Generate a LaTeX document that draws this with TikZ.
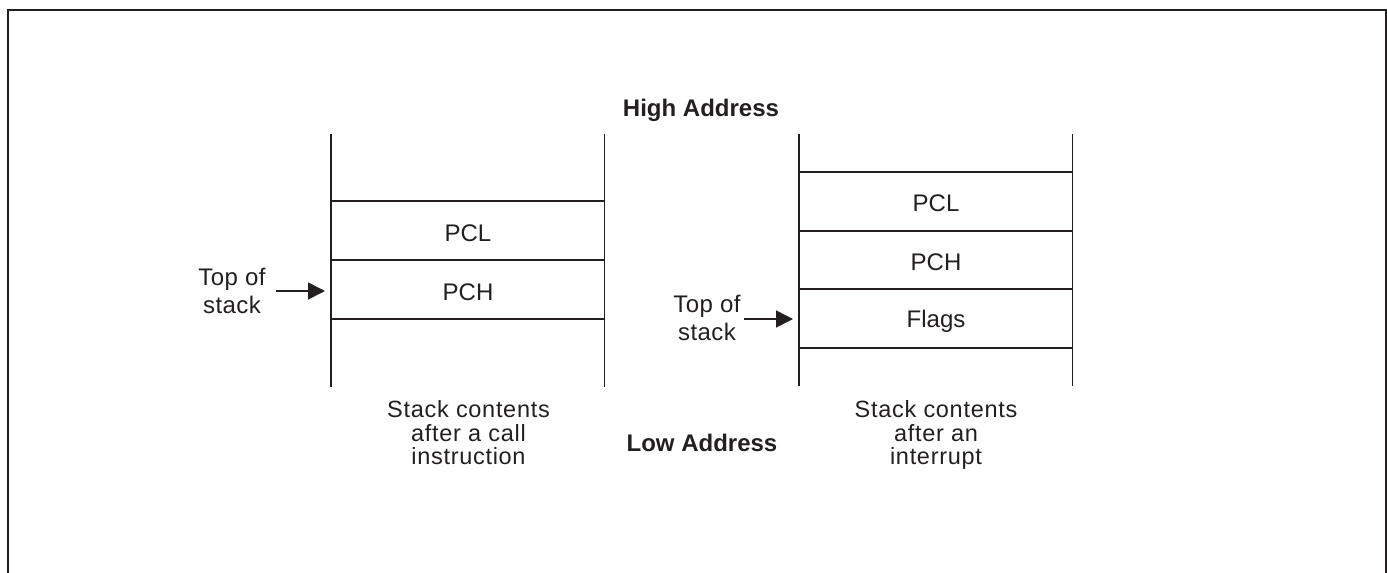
\documentclass[tikz,border=0pt]{standalone}
\usepackage{fontspec}
\setmainfont{Liberation Sans}
\usetikzlibrary{arrows.meta}
\definecolor{ink}{RGB}{35,31,32}
\begin{document}
\begin{tikzpicture}[x=1pt,y=-1pt,
  frame/.style={line width=2pt, draw=ink},
  stackline/.style={line width=1.3pt, draw=ink},
  celltext/.style={anchor=base, inner sep=0pt, text=ink, font=\fontsize{24}{28}\selectfont},
  caption/.style={align=center, anchor=north, inner sep=0pt, text=ink, font=\fontsize{23.5}{23.5}\selectfont\addfontfeatures{LetterSpace=3}},
  toslabel/.style={align=center, inner sep=0pt, text=ink, font=\fontsize{24}{28}\selectfont\addfontfeatures{LetterSpace=2}},
  addr/.style={anchor=base, inner sep=0pt, text=ink, font=\fontsize{24}{28}\selectfont\bfseries},
  pointer/.style={line width=1.5pt, draw=ink, -{Triangle[length=17pt,width=17pt]}}
]
\useasboundingbox (0,0) rectangle (1387,573);
% outer frame (open at the bottom)
\draw[frame] (7.5,575) -- (7.5,10) -- (1385.8,10) -- (1385.8,575);

% titles
\node[addr] (high) at (701,116.7) {High Address};
\node[addr] (low) at (702,451) {Low Address};

% left stack
\draw[stackline] (331,134) -- (331,387);
\draw[stackline] (604.7,134) -- (604.7,387);
\foreach \y in {201,260,319} \draw[stackline] (331,\y) -- (604.7,\y);
\node[celltext] (pcl1) at (468,241) {PCL};
\node[celltext] (pch1) at (468,300) {PCH};
\node[toslabel] (tos1) at (232,290.5) {Top of\\stack};
\coordinate (edge1) at (331,291);
\draw[pointer, shorten <=10pt, shorten >=6pt] (tos1.east |- edge1) -- (edge1);
\node[caption] (cap1) at (468.5,400.5) {Stack contents\\after a call\\instruction};

% right stack
\draw[stackline] (799,134) -- (799,386);
\draw[stackline] (1072.7,134) -- (1072.7,386);
\foreach \y in {172,231,289,348} \draw[stackline] (799,\y) -- (1072.7,\y);
\node[celltext] (pcl2) at (936,211.7) {PCL};
\node[celltext] (pch2) at (936,270) {PCH};
\node[celltext] (flags2) at (936,327.3) {Flags};
\node[toslabel] (tos2) at (707,318) {Top of\\stack};
\coordinate (edge2) at (799,319);
\draw[pointer, shorten <=3pt, shorten >=6pt] (tos2.east |- edge2) -- (edge2);
\node[caption] (cap2) at (936,400.5) {Stack contents\\after an\\interrupt};
\end{tikzpicture}
\end{document}
